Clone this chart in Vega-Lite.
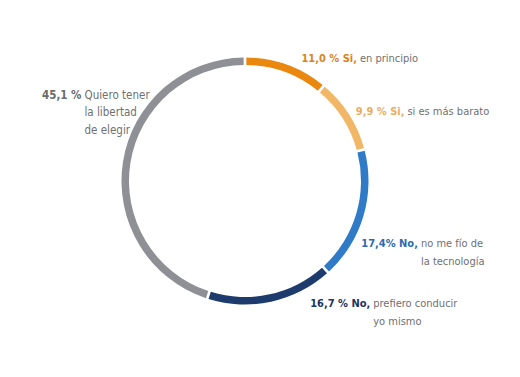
{
  "$schema": "https://vega.github.io/schema/vega-lite/v6.json",
  "width": 490,
  "height": 362,
  "autosize": {"type": "none"},
  "padding": {"left": 0, "top": 0, "right": 30, "bottom": 15},
  "background": "white",
  "config": {"view": {"stroke": null}, "text": {"font": "'DejaVu Sans Condensed', 'Liberation Sans', sans-serif", "fontSize": 11}},
  "data": {
    "values": [
      {"k": 1, "value": 11.0, "cat": "Sí, en principio", "bold": "11,0 % Si,", "rest": "en principio"},
      {"k": 2, "value": 9.9, "cat": "Sí, si es más barato", "bold": "9,9 % Si,", "rest": "si es más barato"},
      {"k": 3, "value": 17.4, "cat": "No, no me fío de la tecnología", "bold": "17,4% No,", "rest": "no me fío de\nla tecnología"},
      {"k": 4, "value": 16.7, "cat": "No, prefiero conducir yo mismo", "bold": "16,7 % No,", "rest": "prefiero conducir\nyo mismo"},
      {"k": 5, "value": 45.1, "cat": "Quiero tener la libertad de elegir", "bold": "45,1 %", "rest": "Quiero tener\nla libertad\nde elegir"}
    ]
  },
  "encoding": {
    "theta": {"field": "value", "type": "quantitative", "stack": true},
    "order": {"field": "k", "type": "quantitative"},
    "detail": {"field": "cat", "type": "nominal"}
  },
  "layer": [
    {
      "mark": {"type": "arc", "innerRadius": 116, "outerRadius": 123.5, "padAngle": 0.016},
      "encoding": {
        "color": {
          "field": "cat", "type": "nominal", "legend": null,
          "scale": {
            "domain": ["Sí, en principio", "Sí, si es más barato", "No, no me fío de la tecnología", "No, prefiero conducir yo mismo", "Quiero tener la libertad de elegir"],
            "range": ["#E9870E", "#F2B766", "#2F7BC8", "#1E3B6D", "#8E9095"]
          }
        }
      }
    },
    {"mark": {"type": "text", "radius": 124, "align": "right", "baseline": "middle", "dx": 70, "dy": -5, "fontWeight": "bold", "color": "#DB8424"},
     "encoding": {"text": {"condition": {"test": "datum.k === 1", "field": "bold", "type": "nominal"}, "value": ""}}},
    {"mark": {"type": "text", "radius": 124, "align": "left", "baseline": "middle", "dx": 73, "dy": -5, "color": "#707070", "lineBreak": "\n", "lineHeight": 17.5},
     "encoding": {"text": {"condition": {"test": "datum.k === 1", "field": "rest", "type": "nominal"}, "value": ""}}},
    {"mark": {"type": "text", "radius": 124, "align": "right", "baseline": "middle", "dx": 55, "dy": -2, "fontWeight": "bold", "color": "#EBAE5E"},
     "encoding": {"text": {"condition": {"test": "datum.k === 2", "field": "bold", "type": "nominal"}, "value": ""}}},
    {"mark": {"type": "text", "radius": 124, "align": "left", "baseline": "middle", "dx": 58, "dy": -2, "color": "#707070", "lineBreak": "\n", "lineHeight": 17.5},
     "encoding": {"text": {"condition": {"test": "datum.k === 2", "field": "rest", "type": "nominal"}, "value": ""}}},
    {"mark": {"type": "text", "radius": 124, "align": "right", "baseline": "middle", "dx": 54, "dy": 28, "fontWeight": "bold", "color": "#2C6CB0"},
     "encoding": {"text": {"condition": {"test": "datum.k === 3", "field": "bold", "type": "nominal"}, "value": ""}}},
    {"mark": {"type": "text", "radius": 124, "align": "left", "baseline": "middle", "dx": 57, "dy": 28, "color": "#707070", "lineBreak": "\n", "lineHeight": 17.5},
     "encoding": {"text": {"condition": {"test": "datum.k === 3", "field": "rest", "type": "nominal"}, "value": ""}}},
    {"mark": {"type": "text", "radius": 124, "align": "right", "baseline": "middle", "dx": 99, "dy": 2, "fontWeight": "bold", "color": "#1D3461"},
     "encoding": {"text": {"condition": {"test": "datum.k === 4", "field": "bold", "type": "nominal"}, "value": ""}}},
    {"mark": {"type": "text", "radius": 124, "align": "left", "baseline": "middle", "dx": 102, "dy": 2, "color": "#707070", "lineBreak": "\n", "lineHeight": 17.5},
     "encoding": {"text": {"condition": {"test": "datum.k === 4", "field": "rest", "type": "nominal"}, "value": ""}}},
    {"mark": {"type": "text", "radius": 124, "align": "right", "baseline": "middle", "dx": -41, "dy": -66, "fontSize": 11.5, "fontWeight": "bold", "color": "#6B6B6B"},
     "encoding": {"text": {"condition": {"test": "datum.k === 5", "field": "bold", "type": "nominal"}, "value": ""}}},
    {"mark": {"type": "text", "radius": 124, "align": "left", "baseline": "middle", "dx": -38, "dy": -66, "fontSize": 11.5, "color": "#707070", "lineBreak": "\n", "lineHeight": 17.5},
     "encoding": {"text": {"condition": {"test": "datum.k === 5", "field": "rest", "type": "nominal"}, "value": ""}}}
  ]
}
